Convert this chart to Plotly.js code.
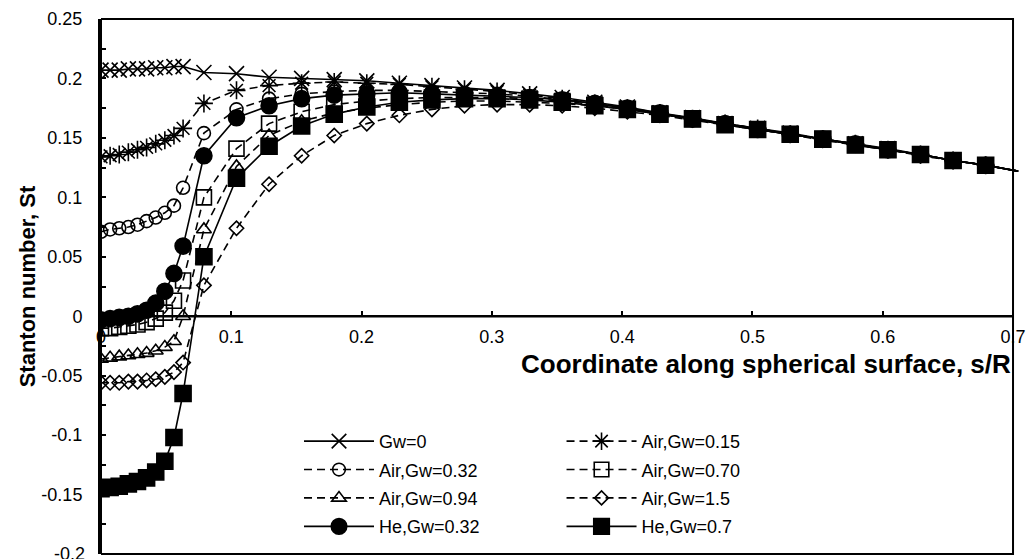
<!DOCTYPE html>
<html>
<head>
<meta charset="utf-8">
<script src="https://cdn.plot.ly/plotly-3.0.1.min.js"></script>
<style>html,body{margin:0;padding:0;background:#fff;}#chart{width:1028px;height:559px;}</style>
</head>
<body>
<div id="chart"></div>
<script>
// s/R grid
const sR = [0, 0.007, 0.014, 0.021, 0.028, 0.035, 0.042, 0.049, 0.056, 0.063,
  0.079, 0.104, 0.129, 0.154, 0.179, 0.204, 0.229, 0.254, 0.279, 0.304, 0.329, 0.354, 0.379,
  0.404, 0.429, 0.454, 0.479, 0.504, 0.529, 0.554, 0.579, 0.604, 0.629, 0.654, 0.679, 0.704];

const stGw0 = [0.207,0.207,0.207,0.208,0.208,0.208,0.209,0.209,0.210,0.210,
  0.205,0.204,0.201,0.200,0.199,0.198,0.196,0.194,0.192,0.190,0.187,0.184,0.180,0.176,0.171,0.167,0.162,0.158,0.154,0.149,0.145,0.141,0.136,0.131,0.127,0.122];
const stAir015 = [0.134,0.135,0.136,0.138,0.140,0.142,0.145,0.148,0.152,0.158,
  0.179,0.190,0.194,0.196,0.197,0.196,0.195,0.193,0.191,0.189,0.186,0.183,0.179,0.175,0.171,0.166,0.162,0.158,0.153,0.149,0.145,0.140,0.136,0.131,0.127,0.122];
const stAir032 = [0.071,0.073,0.074,0.075,0.077,0.080,0.083,0.087,0.093,0.108,
  0.154,0.174,0.183,0.187,0.189,0.190,0.190,0.189,0.188,0.187,0.185,0.182,0.179,0.175,0.170,0.166,0.162,0.158,0.153,0.149,0.145,0.140,0.136,0.131,0.127,0.122];
const stAir070 = [-0.010,-0.010,-0.009,-0.008,-0.007,-0.005,-0.002,0.003,0.013,0.030,
  0.100,0.141,0.162,0.172,0.178,0.181,0.183,0.184,0.184,0.184,0.183,0.181,0.178,0.174,0.170,0.166,0.161,0.157,0.153,0.149,0.144,0.140,0.136,0.131,0.127,0.122];
const stAir094 = [-0.036,-0.035,-0.034,-0.033,-0.032,-0.031,-0.029,-0.026,-0.021,0.000,
  0.073,0.126,0.152,0.164,0.171,0.175,0.178,0.180,0.181,0.181,0.180,0.179,0.177,0.174,0.170,0.166,0.161,0.157,0.153,0.149,0.144,0.140,0.136,0.131,0.127,0.122];
const stAir15 = [-0.056,-0.056,-0.056,-0.055,-0.055,-0.054,-0.053,-0.051,-0.047,-0.039,
  0.026,0.074,0.111,0.135,0.152,0.162,0.169,0.174,0.177,0.178,0.178,0.177,0.175,0.172,0.169,0.165,0.161,0.157,0.153,0.148,0.144,0.140,0.135,0.131,0.127,0.122];
const stHe032 = [-0.003,-0.002,-0.001,0.000,0.002,0.005,0.011,0.021,0.036,0.059,
  0.135,0.167,0.177,0.183,0.186,0.187,0.188,0.187,0.186,0.185,0.184,0.182,0.179,0.175,0.171,0.166,0.162,0.157,0.153,0.149,0.145,0.140,0.136,0.131,0.127,0.122];
const stHe07 = [-0.145,-0.144,-0.143,-0.141,-0.139,-0.136,-0.131,-0.122,-0.102,-0.065,
  0.050,0.116,0.143,0.160,0.170,0.176,0.180,0.182,0.183,0.183,0.182,0.180,0.177,0.174,0.170,0.166,0.161,0.157,0.153,0.149,0.144,0.140,0.136,0.131,0.127,0.122];

const seriesNames = ['Gw=0','Air,Gw=0.15','Air,Gw=0.32','Air,Gw=0.70','Air,Gw=0.94','Air,Gw=1.5','He,Gw=0.32','He,Gw=0.7'];
const seriesValues = [stGw0, stAir015, stAir032, stAir070, stAir094, stAir15, stHe032, stHe07];

const yTickVals = [-0.15,-0.1,-0.05,0,0.05,0.1,0.15,0.2,0.25];
const yTickText = ['-0.15','-0.1','-0.05','0','0.05','0.1','0.15','0.2','0.25'];
const yBottomVal = -0.2;
const yBottomText = '-0.2';
const xTickVals = [0,0.1,0.2,0.3,0.4,0.5,0.6,0.7];
const xTickText = ['0','0.1','0.2','0.3','0.4','0.5','0.6','0.7'];

const styles = [
  {symbol:'x-thin-open', size:15, dash:'solid', legend:'legend'},
  {symbol:'asterisk-open', size:15, dash:'8px,5px', legend:'legend2'},
  {symbol:'circle-open', size:13, dash:'8px,5px', legend:'legend'},
  {symbol:'square-open', size:15, dash:'8px,5px', legend:'legend2'},
  {symbol:'triangle-up-open', size:13, dash:'8px,5px', legend:'legend'},
  {symbol:'diamond-open', size:11, dash:'8px,5px', legend:'legend2'},
  {symbol:'circle', size:16, dash:'solid', legend:'legend'},
  {symbol:'square', size:16, dash:'solid', legend:'legend2'}
];

const FONT = 'Arial, "Liberation Sans", sans-serif';
const XMAX = 0.7;

const traces = seriesValues.map((vals, i) => ({
  type:'scatter', mode:'lines+markers',
  x: sR, y: vals, name: seriesNames[i],
  legend: styles[i].legend, legendgroup: 'g'+i,
  line:{color:'#000', width:1.6, dash:styles[i].dash},
  marker:{symbol:styles[i].symbol, color:'#000', opacity:1,
    size: sR.map(v => v > XMAX ? 0 : styles[i].size),
    line:{color:'#000', width:1.6}},
  cliponaxis:true
}));

const legendCommon = {
  bgcolor:'rgba(0,0,0,0)', borderwidth:0,
  font:{family:FONT, size:18, color:'#000'},
  itemwidth:70, tracegroupgap:2, traceorder:'grouped',
  xanchor:'left', yanchor:'top', orientation:'v'
};

const layout = {
  width:1028, height:559,
  margin:{l:101, r:0, t:19, b:5, pad:0},
  paper_bgcolor:'#fff', plot_bgcolor:'#fff',
  font:{family:FONT, color:'#000'},
  showlegend:true,
  legend: Object.assign({x:0.2136, y:0.245}, legendCommon),
  legend2: Object.assign({x:0.4968, y:0.245}, legendCommon),
  xaxis:{
    range:[0, 0.7115], anchor:'free', position:0.2/0.45,
    tickvals:xTickVals, ticktext:xTickText,
    showline:false,
    ticks:'inside', ticklen:5, tickwidth:2, tickcolor:'#000',
    ticklabelstandoff:8,
    tickfont:{family:FONT, size:18, color:'#000'},
    showgrid:false, zeroline:false
  },
  yaxis:{
    range:[-0.2, 0.25],
    tickvals:yTickVals, ticktext:yTickText,
    showline:true, linecolor:'#000', linewidth:3,
    ticks:'inside', ticklen:5, tickwidth:2, tickcolor:'#000',
    minor:{tickvals:[-0.175,-0.125,-0.075,-0.025,0.025,0.075,0.125,0.175,0.225], ticks:'inside', ticklen:5, tickwidth:2, tickcolor:'#000', showgrid:false},
    ticklabelstandoff:12,
    tickfont:{family:FONT, size:18, color:'#000'},
    showgrid:false, zeroline:false,
    title:{text:'<b>Stanton number, St</b>', font:{family:FONT, size:22, color:'#000'}, standoff:0}
  },
  shapes:[
    {type:'rect', xref:'x', yref:'paper', x0:0, x1:XMAX, y0:0, y1:1,
     line:{color:'#000', width:2}, layer:'above'},
    {type:'line', xref:'x', yref:'y', x0:0, x1:XMAX, y0:0, y1:0,
     line:{color:'#000', width:2.5}, layer:'above'}
  ],
  annotations:[
    {text:'<b>Coordinate along spherical surface, s/R</b>', xref:'x', yref:'y',
     x:0.7, y:-0.0405, xanchor:'right', yanchor:'middle', showarrow:false,
     font:{family:FONT, size:26, color:'#000'}},
    {text:yBottomText, xref:'paper', yref:'y', x:-0.0155, y:yBottomVal,
     xanchor:'right', yanchor:'middle', showarrow:false,
     font:{family:FONT, size:18, color:'#000'}}
  ]
};

Plotly.newPlot('chart', traces, layout, {displayModeBar:false, staticPlot:true});
</script>
</body>
</html>
